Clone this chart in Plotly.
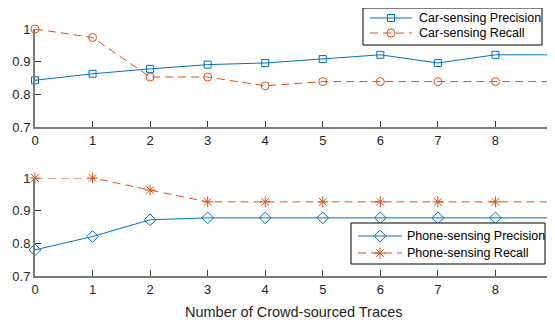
import plotly.graph_objects as go

x_traces = [0, 1, 2, 3, 4, 5, 6, 7, 8, 9]
car_precision = [0.843, 0.863, 0.878, 0.891, 0.896, 0.908, 0.921, 0.896, 0.921, 0.921]
car_recall = [1.0, 0.974, 0.853, 0.853, 0.826, 0.839, 0.839, 0.839, 0.839, 0.839]
phone_precision = [0.780, 0.821, 0.872, 0.878, 0.878, 0.878, 0.878, 0.878, 0.878, 0.878]
phone_recall = [1.0, 1.0, 0.963, 0.927, 0.927, 0.927, 0.927, 0.927, 0.927, 0.927]
y_ticks = [0.7, 0.8, 0.9, 1.0]
y_ticklabels = ["0.7", "0.8", "0.9", "1"]

BLUE = "#0072BD"
ORANGE = "#D95319"
FONT = "Liberation Sans, Arial, sans-serif"
DASH = "8px,5px"

# the page body adds an 8px margin, so the figure is laid out 8px smaller
W, H = 547, 316
L, R = 27, 2

def py(screen_y):
    return 1 - (screen_y - 8) / H

def px(screen_x):
    return (screen_x - 8 - L) / (W - L - R)

series = [
    dict(name="Car-sensing Precision", y=car_precision, color=BLUE, dash="solid",
         symbol="square-open", size=7, ax=("x", "y")),
    dict(name="Car-sensing Recall", y=car_recall, color=ORANGE, dash=DASH,
         symbol="circle-open", size=8, ax=("x", "y")),
    dict(name="Phone-sensing Precision", y=phone_precision, color=BLUE, dash="solid",
         symbol="diamond-open", size=9, ax=("x2", "y2")),
    dict(name="Phone-sensing Recall", y=phone_recall, color=ORANGE, dash=DASH,
         symbol="asterisk-open", size=9, ax=("x2", "y2")),
]

fig = go.Figure()
for s in series:
    fig.add_trace(go.Scatter(
        x=x_traces, y=s["y"], name=s["name"], mode="lines+markers",
        line=dict(color=s["color"], width=1, dash=s["dash"]), cliponaxis=False,
        marker=dict(symbol=s["symbol"], size=s["size"], color=s["color"], line=dict(width=1)),
        xaxis=s["ax"][0], yaxis=s["ax"][1], showlegend=False))

# legend boxes (screen-pixel layout), drawn on an overlay subplot above the data
legend_boxes = [
    dict(box=(363, 8, 542, 45), rows=(18, 33), line=(370, 412), text_x=417, items=series[:2]),
    dict(box=(351, 223, 545, 264), rows=(236, 253), line=(358, 402), text_x=405, items=series[2:]),
]
annotations = []
for lb in legend_boxes:
    x0, y0, x1, y1 = lb["box"]
    fig.add_trace(go.Scatter(
        x=[px(x0), px(x1), px(x1), px(x0), px(x0)], y=[py(y0), py(y0), py(y1), py(y1), py(y0)],
        mode="lines", fill="toself", fillcolor="white", line=dict(color="black", width=1),
        xaxis="x3", yaxis="y3", showlegend=False, hoverinfo="skip", cliponaxis=False))
    for row_y, s in zip(lb["rows"], lb["items"]):
        lx0, lx1 = lb["line"]
        fig.add_trace(go.Scatter(
            x=[px(lx0), px(lx1)], y=[py(row_y), py(row_y)], mode="lines",
            line=dict(color=s["color"], width=1, dash=s["dash"]),
            xaxis="x3", yaxis="y3", showlegend=False, hoverinfo="skip", cliponaxis=False))
        fig.add_trace(go.Scatter(
            x=[px((lx0 + lx1) / 2)], y=[py(row_y)], mode="markers",
            marker=dict(symbol=s["symbol"], size=s["size"], color=s["color"], line=dict(width=1)),
            xaxis="x3", yaxis="y3", showlegend=False, hoverinfo="skip", cliponaxis=False))
        annotations.append(dict(
            text=s["name"], x=px(lb["text_x"]), y=py(row_y), xref="paper", yref="paper",
            xanchor="left", yanchor="middle", showarrow=False,
            font=dict(family=FONT, size=12.5, color="black")))

annotations.append(dict(text="Number of Crowd-sourced Traces", x=0.5, xref="paper",
                        y=py(312), yref="paper", xanchor="center", yanchor="middle",
                        showarrow=False, font=dict(family=FONT, size=14.5, color="#262626")))

axis_common = dict(showline=True, linecolor="#7a7a7a", linewidth=2, ticks="inside",
                   ticklen=6, tickcolor="#404040", showgrid=False, zeroline=False,
                   ticklabeloverflow="allow",
                   tickfont=dict(family=FONT, size=13, color="#262626"), automargin=False)

fig.update_layout(
    width=W, height=H,
    margin=dict(l=L, r=R, t=0, b=0),
    paper_bgcolor="white", plot_bgcolor="rgba(0,0,0,0)",
    showlegend=False,
    hovermode=False,
    xaxis=dict(range=[0, 9], domain=[0, 1], anchor="y", tickvals=x_traces, **axis_common),
    yaxis=dict(range=[0.7, 1.0], domain=[py(127), py(29)], anchor="x",
               tickvals=y_ticks, ticktext=y_ticklabels, **axis_common),
    xaxis2=dict(range=[0, 9], domain=[0, 1], anchor="y2", tickvals=x_traces, **axis_common),
    yaxis2=dict(range=[0.7, 1.0], domain=[py(276), py(178)], anchor="x2",
                tickvals=y_ticks, ticktext=y_ticklabels, **axis_common),
    xaxis3=dict(range=[0, 1], domain=[0, 1], anchor="y3", visible=False, fixedrange=True),
    yaxis3=dict(range=[0, 1], domain=[0, 1], anchor="x3", visible=False, fixedrange=True),
    annotations=annotations,
)

fig.write_html("out.html")
